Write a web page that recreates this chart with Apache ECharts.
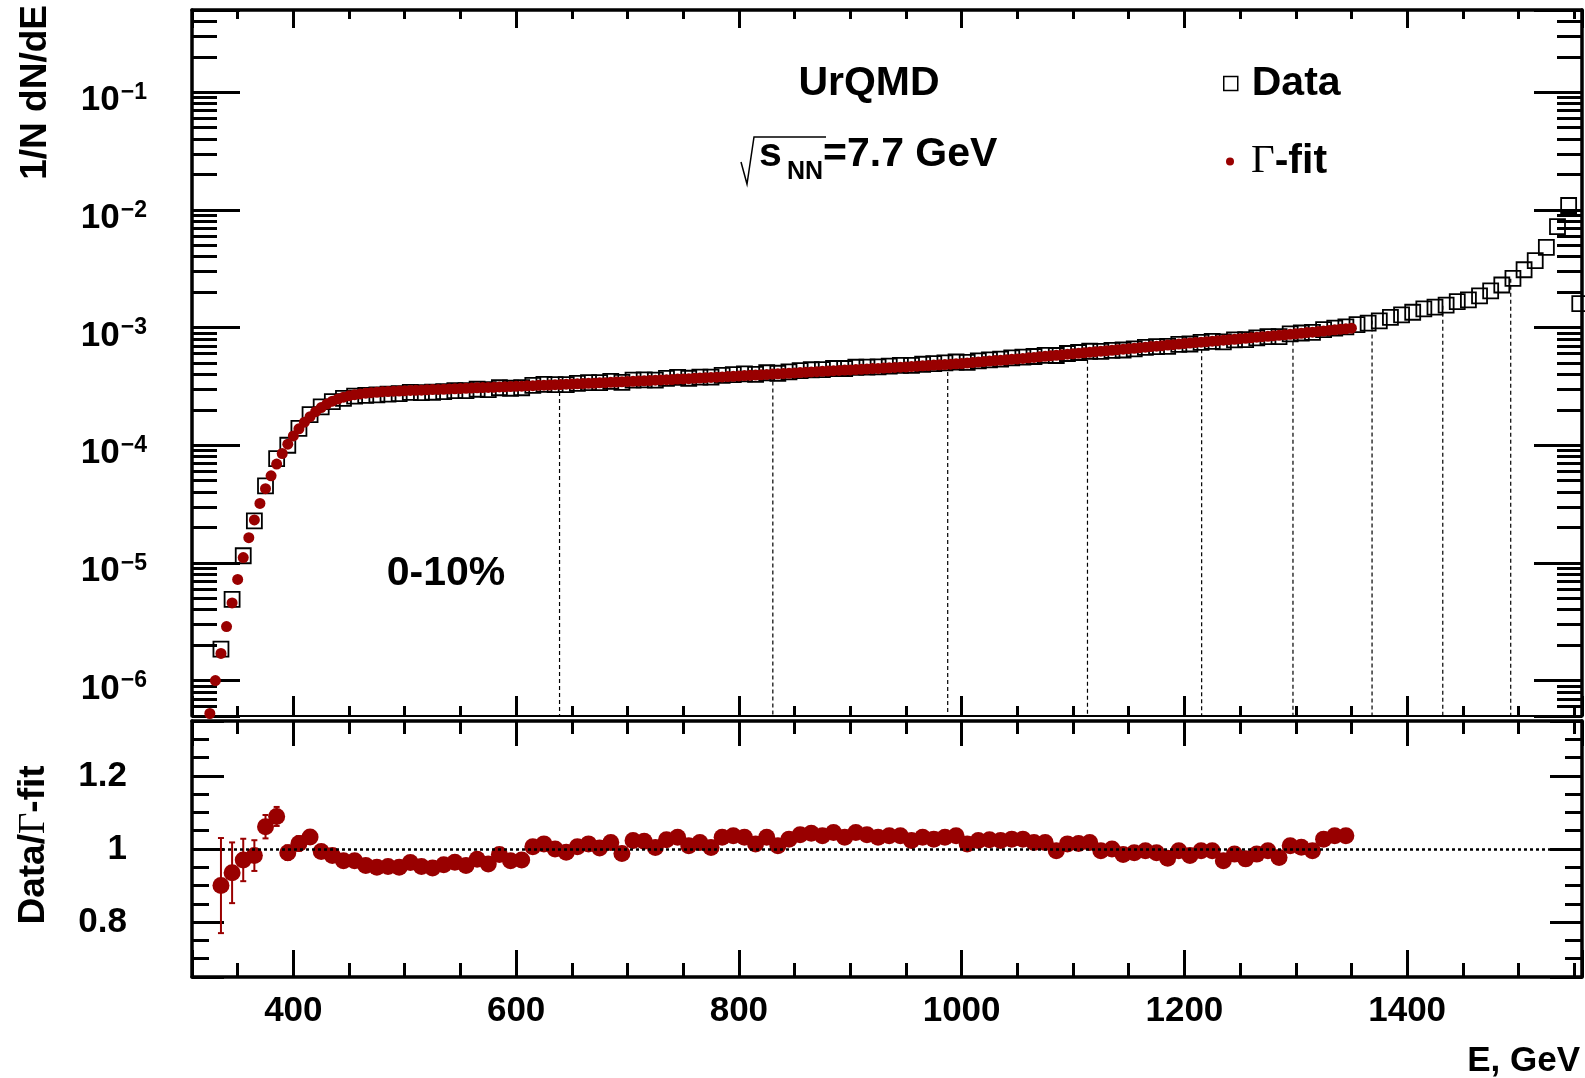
<!DOCTYPE html>
<html>
<head>
<meta charset="utf-8">
<script src="https://cdn.jsdelivr.net/npm/echarts@6/dist/echarts.min.js"></script>
<style>
  html, body { margin: 0; padding: 0; background: #fff; }
  #chart { width: 1585px; height: 1078px; }
</style>
</head>
<body>
<div id="chart"></div>
<script>
// Energy distribution 1/N dN/dE (UrQMD, 0-10%) with Gamma fit and Data/fit ratio

// Data histogram: bin centres (GeV) and contents
const dataE = [
  335, 345, 355, 365, 375, 385, 395, 405, 415, 425,
  435, 445, 455, 465, 475, 485, 495, 505, 515, 525,
  535, 545, 555, 565, 575, 585, 595, 605, 615, 625,
  635, 645, 655, 665, 675, 685, 695, 705, 715, 725,
  735, 745, 755, 765, 775, 785, 795, 805, 815, 825,
  835, 845, 855, 865, 875, 885, 895, 905, 915, 925,
  935, 945, 955, 965, 975, 985, 995, 1005, 1015, 1025,
  1035, 1045, 1055, 1065, 1075, 1085, 1095, 1105, 1115, 1125,
  1135, 1145, 1155, 1165, 1175, 1185, 1195, 1205, 1215, 1225,
  1235, 1245, 1255, 1265, 1275, 1285, 1295, 1305, 1315, 1325,
  1335, 1345, 1355, 1365, 1375, 1385, 1395, 1405, 1415, 1425,
  1435, 1445, 1455, 1465, 1475, 1485, 1495, 1505, 1515, 1525,
  1535, 1545, 1555
];
const dataY = [
  1.85e-6, 4.90e-6, 1.15e-5, 2.28e-5, 4.52e-5, 7.70e-5, 1.00e-4, 1.39e-4, 1.82e-4, 2.12e-4,
  2.35e-4, 2.50e-4, 2.61e-4, 2.65e-4, 2.68e-4, 2.72e-4, 2.75e-4, 2.81e-4, 2.80e-4, 2.82e-4,
  2.86e-4, 2.91e-4, 2.91e-4, 2.99e-4, 2.97e-4, 3.08e-4, 3.05e-4, 3.08e-4, 3.23e-4, 3.29e-4,
  3.27e-4, 3.27e-4, 3.35e-4, 3.41e-4, 3.40e-4, 3.49e-4, 3.42e-4, 3.57e-4, 3.60e-4, 3.58e-4,
  3.70e-4, 3.77e-4, 3.71e-4, 3.79e-4, 3.79e-4, 3.93e-4, 3.99e-4, 4.04e-4, 4.01e-4, 4.13e-4,
  4.09e-4, 4.20e-4, 4.31e-4, 4.38e-4, 4.40e-4, 4.49e-4, 4.49e-4, 4.60e-4, 4.62e-4, 4.64e-4,
  4.71e-4, 4.78e-4, 4.78e-4, 4.88e-4, 4.93e-4, 5.01e-4, 5.10e-4, 5.07e-4, 5.21e-4, 5.32e-4,
  5.39e-4, 5.52e-4, 5.62e-4, 5.68e-4, 5.80e-4, 5.79e-4, 6.02e-4, 6.14e-4, 6.29e-4, 6.27e-4,
  6.41e-4, 6.45e-4, 6.60e-4, 6.78e-4, 6.88e-4, 6.92e-4, 7.20e-4, 7.25e-4, 7.48e-4, 7.62e-4,
  7.57e-4, 7.85e-4, 7.89e-4, 8.16e-4, 8.39e-4, 8.39e-4, 8.85e-4, 8.99e-4, 9.09e-4, 9.60e-4,
  9.91e-4, 1.012e-3, 1.06e-3, 1.09e-3, 1.14e-3, 1.22e-3, 1.28e-3, 1.35e-3, 1.44e-3, 1.49e-3,
  1.55e-3, 1.66e-3, 1.72e-3, 1.86e-3, 2.05e-3, 2.30e-3, 2.62e-3, 3.10e-3, 3.70e-3, 4.80e-3,
  7.20e-3, 1.09e-2, 1.60e-3
];

// Gamma fit, sampled every 5 GeV
const fitE = [
  325, 330, 335, 340, 345, 350, 355, 360, 365, 370,
  375, 380, 385, 390, 395, 400, 405, 410, 415, 420,
  425, 430, 435, 440, 445, 450, 455, 460, 465, 470,
  475, 480, 485, 490, 495, 500, 505, 510, 515, 520,
  525, 530, 535, 540, 545, 550, 555, 560, 565, 570,
  575, 580, 585, 590, 595, 600, 605, 610, 615, 620,
  625, 630, 635, 640, 645, 650, 655, 660, 665, 670,
  675, 680, 685, 690, 695, 700, 705, 710, 715, 720,
  725, 730, 735, 740, 745, 750, 755, 760, 765, 770,
  775, 780, 785, 790, 795, 800, 805, 810, 815, 820,
  825, 830, 835, 840, 845, 850, 855, 860, 865, 870,
  875, 880, 885, 890, 895, 900, 905, 910, 915, 920,
  925, 930, 935, 940, 945, 950, 955, 960, 965, 970,
  975, 980, 985, 990, 995, 1000, 1005, 1010, 1015, 1020,
  1025, 1030, 1035, 1040, 1045, 1050, 1055, 1060, 1065, 1070,
  1075, 1080, 1085, 1090, 1095, 1100, 1105, 1110, 1115, 1120,
  1125, 1130, 1135, 1140, 1145, 1150, 1155, 1160, 1165, 1170,
  1175, 1180, 1185, 1190, 1195, 1200, 1205, 1210, 1215, 1220,
  1225, 1230, 1235, 1240, 1245, 1250, 1255, 1260, 1265, 1270,
  1275, 1280, 1285, 1290, 1295, 1300, 1305, 1310, 1315, 1320,
  1325, 1330, 1335, 1340, 1345, 1350
];
const fitY = [
  5.25e-7, 1.00e-6, 1.70e-6, 2.88e-6, 4.57e-6, 7.24e-6, 1.11e-5, 1.64e-5, 2.32e-5, 3.20e-5,
  4.27e-5, 5.50e-5, 6.92e-5, 8.51e-5, 1.02e-4, 1.20e-4, 1.38e-4, 1.57e-4, 1.75e-4, 1.93e-4,
  2.09e-4, 2.24e-4, 2.37e-4, 2.47e-4, 2.56e-4, 2.63e-4, 2.69e-4, 2.73e-4, 2.77e-4, 2.80e-4,
  2.82e-4, 2.85e-4, 2.86e-4, 2.88e-4, 2.89e-4, 2.90e-4, 2.92e-4, 2.93e-4, 2.94e-4, 2.96e-4,
  2.97e-4, 2.98e-4, 2.99e-4, 3.01e-4, 3.02e-4, 3.03e-4, 3.05e-4, 3.06e-4, 3.08e-4, 3.09e-4,
  3.10e-4, 3.11e-4, 3.13e-4, 3.14e-4, 3.15e-4, 3.17e-4, 3.18e-4, 3.20e-4, 3.21e-4, 3.23e-4,
  3.24e-4, 3.25e-4, 3.27e-4, 3.28e-4, 3.30e-4, 3.31e-4, 3.33e-4, 3.34e-4, 3.36e-4, 3.37e-4,
  3.39e-4, 3.40e-4, 3.43e-4, 3.44e-4, 3.46e-4, 3.48e-4, 3.49e-4, 3.52e-4, 3.53e-4, 3.55e-4,
  3.57e-4, 3.59e-4, 3.61e-4, 3.62e-4, 3.65e-4, 3.66e-4, 3.68e-4, 3.71e-4, 3.72e-4, 3.75e-4,
  3.77e-4, 3.79e-4, 3.81e-4, 3.84e-4, 3.85e-4, 3.88e-4, 3.91e-4, 3.93e-4, 3.95e-4, 3.97e-4,
  4.00e-4, 4.03e-4, 4.05e-4, 4.07e-4, 4.09e-4, 4.12e-4, 4.15e-4, 4.17e-4, 4.20e-4, 4.22e-4,
  4.25e-4, 4.27e-4, 4.30e-4, 4.32e-4, 4.35e-4, 4.37e-4, 4.40e-4, 4.42e-4, 4.45e-4, 4.48e-4,
  4.50e-4, 4.53e-4, 4.55e-4, 4.58e-4, 4.61e-4, 4.63e-4, 4.67e-4, 4.70e-4, 4.73e-4, 4.76e-4,
  4.80e-4, 4.82e-4, 4.85e-4, 4.89e-4, 4.92e-4, 4.95e-4, 5.00e-4, 5.05e-4, 5.09e-4, 5.14e-4,
  5.19e-4, 5.24e-4, 5.27e-4, 5.32e-4, 5.37e-4, 5.42e-4, 5.47e-4, 5.53e-4, 5.58e-4, 5.65e-4,
  5.70e-4, 5.75e-4, 5.82e-4, 5.87e-4, 5.94e-4, 6.00e-4, 6.05e-4, 6.11e-4, 6.18e-4, 6.24e-4,
  6.30e-4, 6.35e-4, 6.41e-4, 6.49e-4, 6.55e-4, 6.61e-4, 6.67e-4, 6.75e-4, 6.81e-4, 6.89e-4,
  6.95e-4, 7.02e-4, 7.10e-4, 7.16e-4, 7.24e-4, 7.31e-4, 7.38e-4, 7.45e-4, 7.52e-4, 7.59e-4,
  7.66e-4, 7.74e-4, 7.82e-4, 7.89e-4, 7.96e-4, 8.04e-4, 8.11e-4, 8.18e-4, 8.28e-4, 8.36e-4,
  8.43e-4, 8.51e-4, 8.59e-4, 8.69e-4, 8.77e-4, 8.85e-4, 8.95e-4, 9.06e-4, 9.14e-4, 9.25e-4,
  9.35e-4, 9.46e-4, 9.57e-4, 9.68e-4, 9.77e-4, 9.89e-4
];

// Data / fit ratio per bin
const ratioE = [
  335, 345, 355, 365, 375, 385, 395, 405, 415, 425,
  435, 445, 455, 465, 475, 485, 495, 505, 515, 525,
  535, 545, 555, 565, 575, 585, 595, 605, 615, 625,
  635, 645, 655, 665, 675, 685, 695, 705, 715, 725,
  735, 745, 755, 765, 775, 785, 795, 805, 815, 825,
  835, 845, 855, 865, 875, 885, 895, 905, 915, 925,
  935, 945, 955, 965, 975, 985, 995, 1005, 1015, 1025,
  1035, 1045, 1055, 1065, 1075, 1085, 1095, 1105, 1115, 1125,
  1135, 1145, 1155, 1165, 1175, 1185, 1195, 1205, 1215, 1225,
  1235, 1245, 1255, 1265, 1275, 1285, 1295, 1305, 1315, 1325,
  1335, 1345
];
const ratioY = [
  0.900, 0.935, 0.970, 0.982, 1.061, 1.089, 0.990, 1.015, 1.033, 0.993,
  0.982, 0.968, 0.968, 0.955, 0.950, 0.952, 0.950, 0.963, 0.952, 0.948,
  0.957, 0.964, 0.955, 0.972, 0.959, 0.985, 0.968, 0.970, 1.006, 1.014,
  1.000, 0.991, 1.006, 1.014, 1.003, 1.018, 0.988, 1.023, 1.021, 1.004,
  1.025, 1.032, 1.009, 1.018, 1.004, 1.032, 1.036, 1.032, 1.014, 1.032,
  1.009, 1.027, 1.039, 1.043, 1.036, 1.045, 1.032, 1.045, 1.039, 1.032,
  1.036, 1.036, 1.023, 1.032, 1.027, 1.032, 1.036, 1.014, 1.023, 1.025,
  1.023, 1.027, 1.027, 1.018, 1.018, 0.995, 1.014, 1.015, 1.018, 0.995,
  1.000, 0.985, 0.990, 0.995, 0.990, 0.975, 0.995, 0.982, 0.995, 0.995,
  0.968, 0.986, 0.973, 0.986, 0.995, 0.977, 1.009, 1.005, 0.995, 1.027,
  1.036, 1.036
];
// statistical errors of the first ratio bins (later ones are smaller than the markers)
const ratioErr = [0.130, 0.083, 0.058, 0.042, 0.032, 0.026, 0.020, 0.020, 0.018];

// Centrality class boundaries (GeV) and the spectrum height where each marker line ends
const boundaryE = [639, 830.5, 987.5, 1113, 1215.5, 1297.5, 1368.5, 1432, 1493];
const boundaryTop = [3.25e-4, 4.0e-4, 4.8e-4, 6.1e-4, 7.5e-4, 8.7e-4, 1.15e-3, 1.53e-3, 2.6e-3];

// Axis ranges
const xRange = [309, 1557];
const specRange = [5e-7, 0.5];
const ratioRange = [0.65, 1.35];

const SANS = '"Liberation Sans", Arial, Helvetica, sans-serif';
const SERIF = '"Liberation Serif", "Times New Roman", serif';
const RED = '#990000';
const BLACK = '#000';

const chart = echarts.init(document.getElementById('chart'));

function xAxisDef(grid, pos, major, minor, lineWidth, labels) {
  return {
    type: 'value', gridIndex: grid, position: pos,
    min: xRange[0], max: xRange[1], splitNumber: 6,
    axisLine: { show: true, onZero: false, lineStyle: { color: BLACK, width: lineWidth } },
    axisTick: { show: true, inside: true, length: major, lineStyle: { color: BLACK, width: 3 } },
    minorTick: { show: true, splitNumber: 4, length: minor, lineStyle: { color: BLACK, width: 3 } },
    splitLine: { show: false }, minorSplitLine: { show: false },
    axisLabel: labels ? {
      show: true, margin: 17, showMinLabel: false, showMaxLabel: false,
      formatter: function (v) { return String(Math.round(v)); },
      fontFamily: SANS, fontWeight: 'bold', fontSize: 35, color: BLACK
    } : { show: false }
  };
}

function specYAxis(pos, labels) {
  return {
    type: 'log', logBase: 10, gridIndex: 0, position: pos,
    min: specRange[0], max: specRange[1],
    axisLine: { show: true, onZero: false, lineStyle: { color: BLACK, width: 3.5 } },
    axisTick: { show: true, inside: true, length: 48, lineStyle: { color: BLACK, width: 3 } },
    minorTick: { show: true, splitNumber: 9, length: 25, lineStyle: { color: BLACK, width: 3 } },
    splitLine: { show: false }, minorSplitLine: { show: false },
    axisLabel: labels ? {
      show: true, margin: 45, showMinLabel: false, showMaxLabel: false,
      formatter: function (v) {
        const e = Math.log10(v), r = Math.round(e);
        if (Math.abs(e - r) > 1e-6) return '';
        return '{m|10}{p|' + (r < 0 ? '\u2212' : '') + Math.abs(r) + '}';
      },
      rich: {
        m: { fontFamily: SANS, fontWeight: 'bold', fontSize: 35, color: BLACK, padding: [17, 0, 0, 0] },
        p: { fontFamily: SANS, fontWeight: 'bold', fontSize: 23, color: BLACK, verticalAlign: 'top', padding: [15, 0, 0, 1] }
      }
    } : { show: false }
  };
}

function ratioYAxis(pos, labels) {
  return {
    type: 'value', gridIndex: 1, position: pos,
    min: ratioRange[0], max: ratioRange[1], splitNumber: 3,
    axisLine: { show: true, onZero: false, lineStyle: { color: BLACK, width: 3.5 } },
    axisTick: { show: true, inside: true, length: 32, lineStyle: { color: BLACK, width: 3 } },
    minorTick: { show: true, splitNumber: 4, length: 17, lineStyle: { color: BLACK, width: 3 } },
    splitLine: { show: false }, minorSplitLine: { show: false },
    axisLabel: labels ? {
      show: true, margin: 65, showMinLabel: false, showMaxLabel: false,
      fontFamily: SANS, fontWeight: 'bold', fontSize: 35, color: BLACK
    } : { show: false }
  };
}

const option = {
  backgroundColor: '#fff',
  animation: false,
  textStyle: { fontFamily: SANS },
  grid: [
    { left: 192, top: 10, width: 1390, height: 706 },
    { left: 192, top: 721, width: 1390, height: 256 }
  ],
  xAxis: [
    xAxisDef(0, 'bottom', 20, 10, 2, false),
    xAxisDef(0, 'top', 18, 9, 3.5, false),
    xAxisDef(1, 'bottom', 27, 14, 3.5, true),
    xAxisDef(1, 'top', 25, 13, 3.5, false)
  ],
  yAxis: [
    specYAxis('left', true),
    specYAxis('right', false),
    ratioYAxis('left', true),
    ratioYAxis('right', false)
  ],
  legend: [
    {
      left: 1223, top: 63, padding: 0, selectedMode: false,
      itemWidth: 14, itemHeight: 14,
      data: [{ name: 'Data', icon: 'rect', itemStyle: { color: 'rgba(0,0,0,0)', borderColor: BLACK, borderWidth: 1.5 } }],
      formatter: '{b|{name}}',
      textStyle: { rich: { b: { fontFamily: SANS, fontWeight: 'bold', fontSize: 41, color: BLACK, padding: [0, 0, 0, 9] } } }
    },
    {
      left: 1226, top: 141, padding: 0, selectedMode: false,
      itemWidth: 8, itemHeight: 8,
      data: [{ name: '\u0393-fit', icon: 'circle', itemStyle: { color: RED, opacity: 1 } }],
      formatter: function () { return '{g|\u0393}{b|-fit}'; },
      textStyle: { rich: {
        g: { fontFamily: SERIF, fontSize: 41, color: BLACK, padding: [0, 0, 0, 12] },
        b: { fontFamily: SANS, fontWeight: 'bold', fontSize: 41, color: BLACK }
      } }
    }
  ],
  series: [
    {
      name: 'Data', type: 'scatter', xAxisIndex: 0, yAxisIndex: 0,
      symbol: 'rect', symbolSize: 15,
      itemStyle: { color: 'rgba(0,0,0,0)', borderColor: BLACK, borderWidth: 1.8, opacity: 1 },
      data: dataE.map((e, i) => [e, dataY[i]]),
      z: 2
    },
    {
      name: '\u0393-fit', type: 'scatter', xAxisIndex: 0, yAxisIndex: 0,
      symbol: 'circle', symbolSize: 11,
      itemStyle: { color: RED, opacity: 1 },
      data: fitE.map((e, i) => [e, fitY[i]]),
      z: 3
    },
    {
      name: 'boundaries', type: 'custom', xAxisIndex: 0, yAxisIndex: 0,
      data: boundaryE.map((e, i) => [e, boundaryTop[i]]),
      renderItem: function (params, api) {
        const top = api.coord([api.value(0), api.value(1)]);
        const bottom = api.coord([api.value(0), specRange[0]]);
        return {
          type: 'line',
          shape: { x1: top[0], y1: top[1], x2: bottom[0], y2: bottom[1] },
          style: { stroke: BLACK, lineWidth: 1.2, lineDash: [4, 3] }
        };
      },
      z: 1, silent: true
    },
    {
      name: 'ratio errors', type: 'custom', xAxisIndex: 2, yAxisIndex: 2,
      data: ratioErr.map((err, i) => [ratioE[i], ratioY[i] - err, ratioY[i] + err]),
      renderItem: function (params, api) {
        const hi = api.coord([api.value(0), api.value(2)]);
        const lo = api.coord([api.value(0), api.value(1)]);
        const c = 3;
        const st = { stroke: RED, lineWidth: 2 };
        return {
          type: 'group',
          children: [
            { type: 'line', shape: { x1: hi[0], y1: hi[1], x2: lo[0], y2: lo[1] }, style: st },
            { type: 'line', shape: { x1: hi[0] - c, y1: hi[1], x2: hi[0] + c, y2: hi[1] }, style: st },
            { type: 'line', shape: { x1: lo[0] - c, y1: lo[1], x2: lo[0] + c, y2: lo[1] }, style: st }
          ]
        };
      },
      z: 2, silent: true
    },
    {
      name: 'ratio', type: 'scatter', xAxisIndex: 2, yAxisIndex: 2,
      symbol: 'circle', symbolSize: 17,
      itemStyle: { color: RED, opacity: 1 },
      data: ratioE.map((e, i) => [e, ratioY[i]]),
      z: 3,
      markLine: {
        silent: true, symbol: 'none', animation: false,
        label: { show: false },
        lineStyle: { color: BLACK, width: 2.6, type: [3, 3], opacity: 1 },
        data: [{ yAxis: 1 }],
        z: 5
      }
    }
  ],
  graphic: [
    { type: 'text', x: 869, y: 84, z: 10,
      style: { text: 'UrQMD', font: 'bold 41px ' + SANS, fill: BLACK, textAlign: 'center', textVerticalAlign: 'middle' } },
    { type: 'polyline', z: 10,
      shape: { points: [[741, 162], [747, 184], [754, 137], [826, 137]] },
      style: { stroke: BLACK, lineWidth: 1.5, fill: null } },
    { type: 'text', x: 759, y: 155, z: 10,
      style: { text: 's', font: 'bold 41px ' + SANS, fill: BLACK, textAlign: 'left', textVerticalAlign: 'middle' } },
    { type: 'text', x: 787, y: 172, z: 10,
      style: { text: 'NN', font: 'bold 25px ' + SANS, fill: BLACK, textAlign: 'left', textVerticalAlign: 'middle' } },
    { type: 'text', x: 823, y: 155, z: 10,
      style: { text: '=7.7 GeV', font: 'bold 41px ' + SANS, fill: BLACK, textAlign: 'left', textVerticalAlign: 'middle' } },
    { type: 'text', x: 446, y: 574, z: 10,
      style: { text: '0-10%', font: 'bold 41px ' + SANS, fill: BLACK, textAlign: 'center', textVerticalAlign: 'middle' } },
    { type: 'text', x: 1580, y: 1061, z: 10,
      style: { text: 'E, GeV', font: 'bold 35px ' + SANS, fill: BLACK, textAlign: 'right', textVerticalAlign: 'middle' } },
    { type: 'text', x: 36, y: 5, rotation: Math.PI / 2, z: 10,
      style: { text: '1/N dN/dE', font: 'bold 37px ' + SANS, fill: BLACK, textAlign: 'right', textVerticalAlign: 'middle' } },
    { type: 'text', x: 34, y: 845, rotation: Math.PI / 2, z: 10,
      style: {
        text: '{a|Data/}{g|\u0393}{a|-fit}', textAlign: 'center', textVerticalAlign: 'middle',
        rich: {
          a: { fontFamily: SANS, fontWeight: 'bold', fontSize: 37, fill: BLACK, color: BLACK },
          g: { fontFamily: SERIF, fontSize: 37, fill: BLACK, color: BLACK }
        }
      } }
  ]
};

chart.setOption(option);
</script>
</body>
</html>
